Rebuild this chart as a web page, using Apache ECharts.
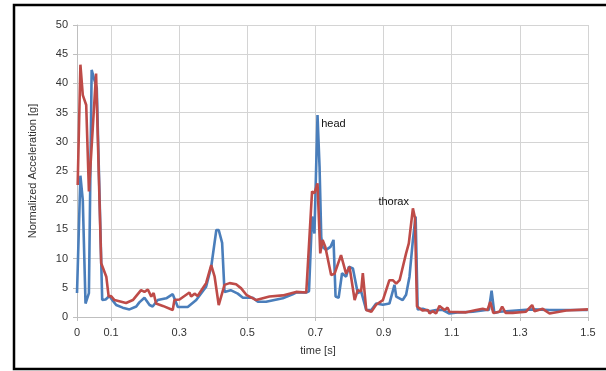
<!DOCTYPE html>
<html>
<head>
<meta charset="utf-8">
<script src="https://cdn.jsdelivr.net/npm/echarts@6/dist/echarts.min.js"></script>
<style>
html,body{margin:0;padding:0;background:#fff;}
#chart{width:606px;height:371px;}
</style>
</head>
<body>
<div id="chart"></div>
<script>
// x tick labels shown (Excel-style)
const xTicks = [0, 0.1, 0.3, 0.5, 0.7, 0.9, 1.1, 1.3, 1.5];

// head (blue) series: [time s, acceleration g]
const headTime = [0.000,0.010,0.017,0.025,0.035,0.043,0.051,0.058,0.074,0.084,0.095,0.105,0.115,0.134,0.154,0.174,0.183,0.198,0.213,0.222,0.237,0.262,0.281,0.296,0.325,0.350,0.379,0.394,0.409,0.416,0.426,0.433,0.451,0.472,0.487,0.516,0.531,0.555,0.604,0.633,0.643,0.673,0.681,0.690,0.697,0.706,0.712,0.717,0.721,0.731,0.744,0.753,0.759,0.768,0.778,0.790,0.798,0.810,0.824,0.834,0.849,0.864,0.878,0.898,0.917,0.932,0.937,0.956,0.966,0.976,0.986,0.994,1.000,1.015,1.035,1.054,1.074,1.093,1.123,1.162,1.201,1.209,1.217,1.225,1.240,1.289,1.338,1.387,1.499];
const headValue = [4.1,24.2,20.0,2.3,4.1,42.3,40.6,39.2,2.9,3.0,3.6,2.8,2.05,1.6,1.3,1.8,2.5,3.3,2.05,1.8,2.9,3.2,3.9,1.7,1.7,2.9,5.2,8.6,14.9,14.9,12.7,4.3,4.6,4.0,3.3,3.3,2.6,2.6,3.2,3.9,4.2,4.2,4.4,17.2,14.3,34.6,25.7,13.7,12.0,11.5,12.0,13.2,3.5,3.3,7.5,6.9,8.6,8.3,4.1,4.4,1.2,1.2,2.3,2.1,2.3,5.5,3.5,2.9,3.8,6.9,13.2,17.2,1.3,1.4,1.0,1.2,1.2,0.6,0.8,0.9,1.2,1.2,4.5,0.7,0.9,1.1,1.3,1.2,1.2];

// thorax (red) series
const thoraxTime = [0.002,0.010,0.017,0.027,0.035,0.056,0.071,0.086,0.093,0.100,0.110,0.115,0.144,0.164,0.188,0.198,0.208,0.218,0.225,0.232,0.252,0.281,0.286,0.301,0.330,0.335,0.345,0.354,0.379,0.394,0.404,0.416,0.433,0.448,0.467,0.482,0.497,0.526,0.565,0.604,0.643,0.673,0.690,0.697,0.706,0.714,0.721,0.729,0.746,0.756,0.775,0.790,0.800,0.815,0.824,0.834,0.839,0.849,0.864,0.878,0.898,0.917,0.927,0.937,0.947,0.952,0.966,0.974,0.986,0.992,0.998,1.015,1.030,1.035,1.044,1.054,1.064,1.079,1.088,1.093,1.142,1.172,1.191,1.205,1.213,1.222,1.240,1.248,1.258,1.279,1.318,1.336,1.343,1.367,1.387,1.436,1.500];
const thoraxValue = [22.6,43.2,38.0,36.3,21.5,41.7,9.2,6.9,3.5,3.6,2.9,2.6,2.4,2.9,4.6,4.3,4.7,3.5,4.1,2.3,1.9,1.2,2.9,3.0,4.2,3.5,4.0,3.6,5.8,8.9,6.9,2.05,5.5,5.8,5.6,4.9,3.8,2.9,3.5,3.7,4.3,4.2,21.5,21.2,22.9,10.9,13.2,12.0,7.2,7.4,10.6,7.4,8.6,2.9,4.6,4.4,7.5,1.2,0.9,2.1,2.9,6.3,6.3,5.7,6.3,6.3,10.9,12.6,18.6,17.0,1.8,1.1,1.2,0.6,1.0,0.6,1.9,1.2,1.6,0.9,0.8,1.2,1.4,1.2,2.6,0.7,0.9,1.8,0.7,0.7,0.9,2.05,1.0,1.4,0.6,1.1,1.3];

// annotations: [label, time, value]
const annotations = [['head', 0.705, 33.0], ['thorax', 0.873, 19.7]];

const pair = (ts, vs) => ts.map((t, i) => [t, vs[i]]);
const font = 'Liberation Sans, Arial, sans-serif';

const chart = echarts.init(document.getElementById('chart'), null, {renderer: 'canvas'});
chart.setOption({
  animation: false,
  backgroundColor: '#ffffff',
  grid: {left: 77, right: 18, top: 25, bottom: 54, containLabel: false},
  xAxis: {
    type: 'value', min: 0, max: 1.5,
    axisLine: {show: true, lineStyle: {color: '#bfbfbf', width: 1}},
    axisTick: {show: true, customValues: xTicks, length: 4, lineStyle: {color: '#bfbfbf'}},
    axisLabel: {customValues: xTicks, color: '#333', fontSize: 11, fontFamily: font, margin: 10},
    splitLine: {show: true, lineStyle: {color: '#d4d4d4', width: 1}}
  },
  yAxis: {
    type: 'value', min: 0, max: 50, interval: 5,
    axisLine: {show: true, lineStyle: {color: '#bfbfbf', width: 1}},
    axisTick: {show: true, length: 4, lineStyle: {color: '#bfbfbf'}},
    axisLabel: {color: '#333', fontSize: 11, fontFamily: font, margin: 9},
    splitLine: {show: true, lineStyle: {color: '#d4d4d4', width: 1}}
  },
  series: [
    {
      name: 'head', type: 'line', data: pair(headTime, headValue),
      showSymbol: false, symbol: 'none',
      lineStyle: {color: '#4a7ebb', width: 2.6}, itemStyle: {color: '#4a7ebb'},
      z: 2
    },
    {
      name: 'thorax', type: 'line', data: pair(thoraxTime, thoraxValue),
      showSymbol: false, symbol: 'none',
      lineStyle: {color: '#be4b48', width: 2.6}, itemStyle: {color: '#be4b48'},
      z: 3,
      markPoint: {
        symbol: 'circle', symbolSize: 0, silent: true, animation: false,
        label: {show: true, position: 'right', distance: 4, color: '#111', fontSize: 11, fontFamily: font,
                formatter: p => p.name},
        data: annotations.map(a => ({name: a[0], coord: [a[1], a[2]]}))
      }
    }
  ],
  graphic: [
    {type: 'rect', shape: {x: 14, y: 5, width: 620, height: 364}, style: {fill: 'none', stroke: '#000', lineWidth: 2.5}, silent: true},
    {type: 'text', x: 33, y: 171, rotation: Math.PI / 2, style: {text: 'Normalized Acceleration [g]', fill: '#333', font: '11px ' + font, textAlign: 'center', textVerticalAlign: 'middle'}},
    {type: 'text', x: 318, y: 351, style: {text: 'time [s]', fill: '#333', font: '11px ' + font, textAlign: 'center', textVerticalAlign: 'middle'}}
  ]
});
</script>
</body>
</html>
